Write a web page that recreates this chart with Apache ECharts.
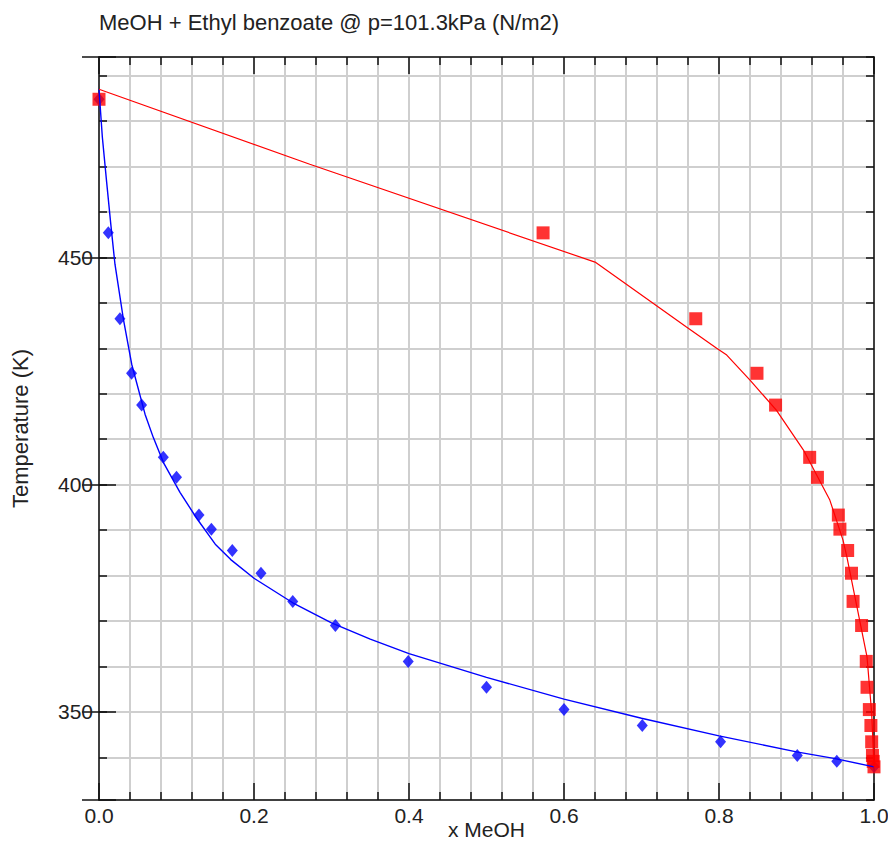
<!DOCTYPE html>
<html lang="en">
<head>
    <meta charset="UTF-8">
    <title>MeOH + Ethyl benzoate</title>
    <script type="text/javascript" src="https://cdn.jsdelivr.net/npm/echarts@6/dist/echarts.min.js"></script>
    <style>
        html, body { margin: 0; padding: 0; background: #fff; }
    </style>
</head>
<body>
<div id="vle" style="width: 888px;height:845px;"></div>
<script>
    // 实验数据: 温度 (K), 液相 x, 汽相 y
    var tempExp = [484.8, 455.4, 436.5, 424.5, 417.5, 406.0, 401.6, 393.3, 390.2, 385.5, 380.5,
                   374.3, 369.0, 361.1, 355.4, 350.5, 347.0, 343.4, 340.4, 339.1, 337.9];
    var xLiquid = [0, 0.012, 0.027, 0.042, 0.055, 0.083, 0.100, 0.129, 0.145, 0.172, 0.209,
                   0.250, 0.305, 0.399, 0.500, 0.600, 0.701, 0.802, 0.901, 0.952, 1.0];
    var yVapor  = [0, 0.573, 0.770, 0.849, 0.873, 0.917, 0.927, 0.954, 0.956, 0.966, 0.971,
                   0.973, 0.984, 0.990, 0.991, 0.994, 0.996, 0.997, 0.998, 0.999, 1.0];

    // 模型曲线 (泡点线 / 露点线)
    var bubbleX = [0, 0.0043, 0.0099, 0.0151, 0.0206, 0.0314, 0.0422, 0.0594, 0.070, 0.083, 0.1045,
                   0.126, 0.150, 0.170, 0.200, 0.250, 0.300, 0.350, 0.400, 0.500, 0.600,
                   0.700, 0.800, 0.900, 0.950, 1.0];
    var bubbleT = [487.0, 476.5, 466.5, 457.5, 448.5, 436.5, 426.5, 415.5, 410.4, 404.9, 398.3,
                   392.6, 386.9, 383.5, 379.4, 374.0, 369.6, 366.0, 362.8, 357.6, 352.8,
                   348.6, 344.7, 341.2, 339.7, 337.9];
    var dewX = [0, 0.272, 0.641, 0.758, 0.797, 0.810, 0.840, 0.874, 0.909, 0.926, 0.943, 0.960,
                0.965, 0.978, 0.991, 0.997, 1.0];
    var dewT = [487.0, 470.5, 448.9, 434.7, 430.0, 428.5, 423.0, 416.4, 407.6, 402.1, 396.6, 387.8,
                384.1, 373.1, 362.1, 349.7, 337.9];

    var yMin = 330.6, yMax = 494.1;

    function pairs(xs, ys) {
        var out = [];
        for (var i = 0; i < xs.length; i++) {
            out.push([xs[i], ys[i]]);
        }
        return out;
    }

    var font = "'Liberation Sans', Arial, sans-serif";
    var black = '#111';
    var gridGray = '#cfcfcf';

    var chart = echarts.init(document.getElementById('vle'), null, {renderer: 'svg'});
    chart.setOption({
        backgroundColor: '#fff',
        animation: false,
        title: {
            text: 'MeOH + Ethyl benzoate @ p=101.3kPa (N/m2)',
            left: 94,
            top: 6,
            textStyle: {fontFamily: font, fontSize: 22, fontWeight: 'normal', color: '#222'}
        },
        grid: {left: 99, top: 57, right: 14, bottom: 45, containLabel: false, outerBoundsMode: 'none'},
        xAxis: [
            {
                type: 'value', position: 'bottom', min: 0, max: 1, interval: 0.2,
                name: 'x MeOH', nameLocation: 'middle', nameGap: 19, nameMoveOverlap: false,
                nameTextStyle: {fontFamily: font, fontSize: 21, color: '#222'},
                axisLine: {lineStyle: {color: black, width: 1.5}},
                axisTick: {inside: true, length: 17, lineStyle: {color: black, width: 1.5}},
                minorTick: {show: true, splitNumber: 5, length: 8, lineStyle: {color: black, width: 1.5}},
                splitLine: {show: true, lineStyle: {color: gridGray, width: 2}},
                minorSplitLine: {show: true, lineStyle: {color: gridGray, width: 2}},
                axisLabel: {
                    fontFamily: font, fontSize: 21, color: '#222', margin: 5,
                    formatter: function (v) { return v.toFixed(1); }
                }
            },
            {
                type: 'value', position: 'top', min: 0, max: 1, interval: 0.2,
                axisLine: {lineStyle: {color: black, width: 1.5}},
                axisTick: {inside: true, length: 17, lineStyle: {color: black, width: 1.5}},
                minorTick: {show: true, splitNumber: 5, length: 8, lineStyle: {color: black, width: 1.5}},
                splitLine: {show: false},
                axisLabel: {show: false}
            }
        ],
        yAxis: [
            {
                // 10 K 网格 + 短刻度
                type: 'value', position: 'left', min: yMin, max: yMax, splitNumber: 16,
                name: 'Temperature (K)', nameLocation: 'middle', nameGap: 68, nameMoveOverlap: false,
                nameTextStyle: {fontFamily: font, fontSize: 22, color: '#222'},
                axisLine: {onZero: false, lineStyle: {color: black, width: 1.5}},
                axisTick: {inside: true, length: 8, lineStyle: {color: black, width: 1.5}},
                splitLine: {show: true, lineStyle: {color: gridGray, width: 2}},
                axisLabel: {
                    fontFamily: font, fontSize: 21, color: '#222', margin: 6,
                    showMinLabel: false, showMaxLabel: false,
                    formatter: function (v) { return Math.abs(v % 50) < 1e-6 ? String(v) : ''; }
                }
            },
            {
                // 50 K 长刻度
                type: 'value', position: 'left', min: yMin, max: yMax, splitNumber: 3,
                axisLine: {show: false},
                axisTick: {inside: true, length: 17, lineStyle: {color: black, width: 1.5}},
                splitLine: {show: false},
                axisLabel: {show: false}
            },
            {
                type: 'value', position: 'right', min: yMin, max: yMax, splitNumber: 16,
                axisLine: {onZero: false, lineStyle: {color: black, width: 1.5}},
                axisTick: {inside: true, length: 8, lineStyle: {color: black, width: 1.5}},
                splitLine: {show: false},
                axisLabel: {show: false}
            },
            {
                type: 'value', position: 'right', min: yMin, max: yMax, splitNumber: 3,
                axisLine: {show: false},
                axisTick: {inside: true, length: 17, lineStyle: {color: black, width: 1.5}},
                splitLine: {show: false},
                axisLabel: {show: false}
            }
        ],
        series: [
            {
                name: 'bubble', type: 'line', data: pairs(bubbleX, bubbleT),
                showSymbol: false, smooth: false,
                lineStyle: {color: '#0000ff', width: 1.4}
            },
            {
                name: 'dew', type: 'line', data: pairs(dewX, dewT),
                showSymbol: false,
                lineStyle: {color: '#ff0000', width: 1.2}
            },
            {
                name: 'x exp', type: 'scatter', data: pairs(xLiquid, tempExp),
                symbol: 'diamond', symbolSize: [11, 13],
                itemStyle: {color: '#0000ff'}
            },
            {
                name: 'y exp', type: 'scatter', data: pairs(yVapor, tempExp),
                symbol: 'rect', symbolSize: 13,
                itemStyle: {color: '#ff0000'}
            }
        ]
    });
</script>
</body>
</html>
